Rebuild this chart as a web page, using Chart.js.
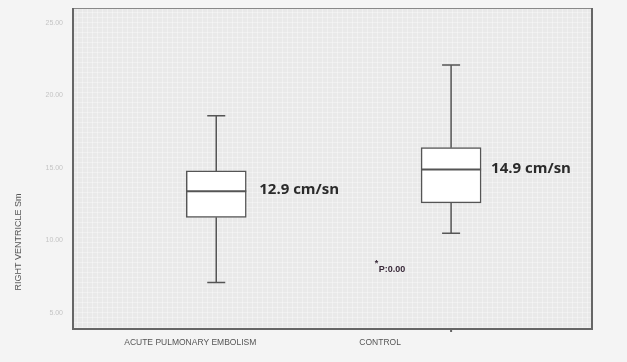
<!DOCTYPE html>
<html>
<head>
<meta charset="utf-8">
<script src="https://cdn.jsdelivr.net/npm/chart.js@4/dist/chart.umd.min.js"></script>
<style>
  html, body { margin: 0; padding: 0; background: #f4f4f4; }
  #wrap { width: 627px; height: 362px; }
</style>
</head>
<body>
<div id="wrap"><canvas id="grafico" width="627" height="362"></canvas></div>
<script>
// datos del grafico
const categorias = ["ACUTE PULMONARY EMBOLISM", "CONTROL"];
const minimos = [7.1, 10.5];
const cuartil1 = [11.6, 12.6];
const medianas = [13.4, 14.9];
const cuartil3 = [14.8, 16.4];
const maximos = [18.6, 22.1];
const etiquetasMediana = ["12.9 cm/sn", "14.9 cm/sn"];
const ticksY = [5, 10, 15, 20, 25];
const tituloY = "RIGHT VENTRICLE Sm";
const textoP = "P:0.00";

const fondoArea = {
  id: "fondoArea",
  beforeDraw(chart) {
    const { ctx, chartArea: a } = chart;
    ctx.save();
    ctx.fillStyle = "#e9e9e9";
    ctx.fillRect(a.left, a.top, a.width, a.height);
    // textura de rejilla fina
    ctx.strokeStyle = "rgba(255,255,255,0.35)";
    ctx.lineWidth = 1;
    for (let x = a.left + 4; x < a.right; x += 5) {
      ctx.beginPath(); ctx.moveTo(x + 0.5, a.top); ctx.lineTo(x + 0.5, a.bottom); ctx.stroke();
    }
    for (let y = a.top + 4; y < a.bottom; y += 5) {
      ctx.beginPath(); ctx.moveTo(a.left, y + 0.5); ctx.lineTo(a.right, y + 0.5); ctx.stroke();
    }
    ctx.restore();
  },
  afterDraw(chart) {
    const { ctx, chartArea: a, scales: { x } } = chart;
    ctx.save();
    ctx.strokeStyle = "#888";
    ctx.lineWidth = 1;
    ctx.strokeRect(a.left + 0.5, a.top + 0.5, a.width, a.height);
    ctx.strokeStyle = "#666";
    ctx.lineWidth = 2;
    ctx.beginPath();
    ctx.moveTo(a.left, a.top); ctx.lineTo(a.left, a.bottom); ctx.lineTo(a.right, a.bottom); ctx.lineTo(a.right, a.top);
    // marca en el eje x
    const cx = x.getPixelForValue(1);
    ctx.moveTo(cx, a.bottom); ctx.lineTo(cx, a.bottom + 3);
    ctx.stroke();
    ctx.restore();
  }
};

const cajas = {
  id: "cajas",
  afterDatasetsDraw(chart) {
    const { ctx, scales: { x, y } } = chart;
    const meta = chart.getDatasetMeta(0);
    ctx.save();
    ctx.strokeStyle = "#555";
    ctx.lineWidth = 1.5;
    categorias.forEach((c, i) => {
      const cx = x.getPixelForValue(i);
      const w = meta.data[i].width;
      const tope = 9;
      // bigotes
      ctx.beginPath();
      ctx.moveTo(cx, y.getPixelForValue(cuartil3[i]));
      ctx.lineTo(cx, y.getPixelForValue(maximos[i]));
      ctx.moveTo(cx - tope, y.getPixelForValue(maximos[i]));
      ctx.lineTo(cx + tope, y.getPixelForValue(maximos[i]));
      ctx.moveTo(cx, y.getPixelForValue(cuartil1[i]));
      ctx.lineTo(cx, y.getPixelForValue(minimos[i]));
      ctx.moveTo(cx - tope, y.getPixelForValue(minimos[i]));
      ctx.lineTo(cx + tope, y.getPixelForValue(minimos[i]));
      ctx.stroke();
      // mediana
      ctx.lineWidth = 2;
      ctx.beginPath();
      ctx.moveTo(cx - w / 2, y.getPixelForValue(medianas[i]));
      ctx.lineTo(cx + w / 2, y.getPixelForValue(medianas[i]));
      ctx.stroke();
      ctx.lineWidth = 1.5;
      // texto de la mediana
      ctx.fillStyle = "#2a2a2a";
      ctx.font = "bold 15px 'Open Sans', sans-serif";
      ctx.textBaseline = "middle";
      ctx.fillText(etiquetasMediana[i], cx + w / 2 + (i === 0 ? 13 : 10), y.getPixelForValue(medianas[i]) - 1);
    });
    // valor p
    ctx.fillStyle = "#3a2a3a";
    const px = (x.getPixelForValue(0) + x.getPixelForValue(1)) / 2 + 45;
    ctx.font = "bold 9px 'Liberation Sans', sans-serif";
    ctx.fillText("*", px - 4, 264);
    ctx.fillText(textoP, px, 270);
    ctx.restore();
  }
};

const textosEjes = {
  id: "textosEjes",
  afterDraw(chart) {
    const { ctx, scales: { x, y } } = chart;
    ctx.save();
    ctx.fillStyle = "#555";
    ctx.font = "8.5px 'Liberation Sans', sans-serif";
    ctx.textAlign = "center";
    ctx.textBaseline = "middle";
    const desplaz = [-26, -71];
    categorias.forEach((c, i) => {
      ctx.fillText(c, x.getPixelForValue(i) + desplaz[i], x.bottom - 19);
    });
    ctx.font = "9px 'Liberation Sans', sans-serif";
    ctx.translate(19, y.getPixelForValue(9.9));
    ctx.rotate(-Math.PI / 2);
    ctx.fillText(tituloY, 0, 0);
    ctx.restore();
  }
};

const ctx = document.getElementById("grafico").getContext("2d");
new Chart(ctx, {
  type: "bar",
  data: {
    datasets: [{
      data: categorias.map((c, i) => ({ x: i, y: [cuartil1[i], cuartil3[i]] })),
      backgroundColor: "#ffffff",
      borderColor: "#555",
      borderWidth: 1.5,
      borderSkipped: false,
      barThickness: 60
    }]
  },
  options: {
    responsive: false,
    animation: false,
    layout: { padding: { top: 8, right: 35, left: 0, bottom: 0 } },
    plugins: { legend: { display: false }, tooltip: { enabled: false } },
    scales: {
      x: {
        type: "linear",
        offset: false,
        min: -0.61,
        max: 1.6,
        grid: { display: false, drawTicks: false, offset: false },
        border: { display: false },
        ticks: { display: false },
        afterFit(s) { s.height = 33; }
      },
      y: {
        min: 3.9,
        max: 26.03,
        afterBuildTicks(s) { s.ticks = ticksY.map(v => ({ value: v })); },
        grid: { display: false, drawOnChartArea: false, drawTicks: true, tickLength: 7, tickColor: "#666", tickWidth: 2 },
        border: { display: false },
        ticks: {
          color: "#c4c4c4",
          font: { size: 7, family: "Liberation Sans" },
          padding: 3,
          callback: v => v.toFixed(2)
        },
        afterFit(s) { s.width = 73; }
      }
    }
  },
  plugins: [fondoArea, cajas, textosEjes]
});
</script>
</body>
</html>
